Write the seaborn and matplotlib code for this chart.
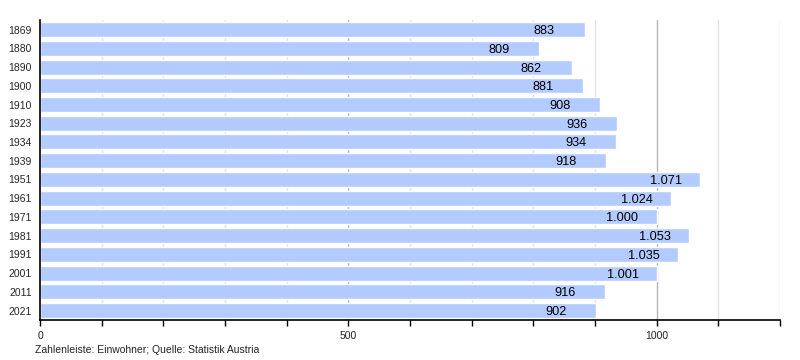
import pandas as pd
import numpy as np
import seaborn as sns
import matplotlib
matplotlib.use('Agg')
import matplotlib.pyplot as plt
from matplotlib.ticker import MultipleLocator, FixedLocator

years = ['1869', '1880', '1890', '1900', '1910', '1923', '1934', '1939',
         '1951', '1961', '1971', '1981', '1991', '2001', '2011', '2021']
einwohner = [883, 809, 862, 881, 908, 936, 934, 918,
             1071, 1024, 1000, 1053, 1035, 1001, 916, 902]
caption = 'Zahlenleiste: Einwohner; Quelle: Statistik Austria'

df = pd.DataFrame({'jahr': years, 'einwohner': einwohner})

sns.set_style('white')
plt.rcParams['font.family'] = ['Liberation Sans', 'DejaVu Sans']

fig = plt.figure(figsize=(8, 3.6), dpi=100)
ax = fig.add_axes([0.05, 0.111, 0.925, 0.833])

# grid first, bars on top
for v in range(100, 1201, 100):
    col = '#b4b4b4' if v % 500 == 0 else '#e2e2e2'
    ax.axvline(v, color=col, lw=1, zorder=0)

sns.barplot(data=df, x='einwohner', y='jahr', order=years, orient='h',
            color='#b3cbff', saturation=1, width=0.8, ax=ax, zorder=2)

ax.set_xlim(0, 1200)
ax.set_ylim(len(years) - 0.5, -0.5)
ax.xaxis.set_major_locator(FixedLocator([0, 500, 1000]))
ax.xaxis.set_minor_locator(MultipleLocator(100))
ax.tick_params(axis='x', which='both', bottom=True, direction='out', length=4,
               width=1, color='black', labelsize=7.5, pad=4, labelcolor='#222222')
ax.tick_params(axis='y', length=0, labelsize=7.5, pad=6)
ax.set_xlabel('')
ax.set_ylabel('')

for s in ['top', 'right']:
    ax.spines[s].set_visible(False)
for s in ['left', 'bottom']:
    ax.spines[s].set_color('black')
    ax.spines[s].set_linewidth(1.2)

# labels start a fixed distance left of the bar end
for i, v in enumerate(einwohner):
    txt = f'{v:,}'.replace(',', '.')
    ax.annotate(txt, (v, i), xytext=(-36.5, 0), textcoords='offset points',
                ha='left', va='center_baseline', fontsize=9.2, color='black',
                zorder=3)

fig.text(35 / 800, 1 - 350 / 360, caption, fontsize=7.5, ha='left',
         va='center', color='#222222')

fig.savefig('out.png', dpi=100)
